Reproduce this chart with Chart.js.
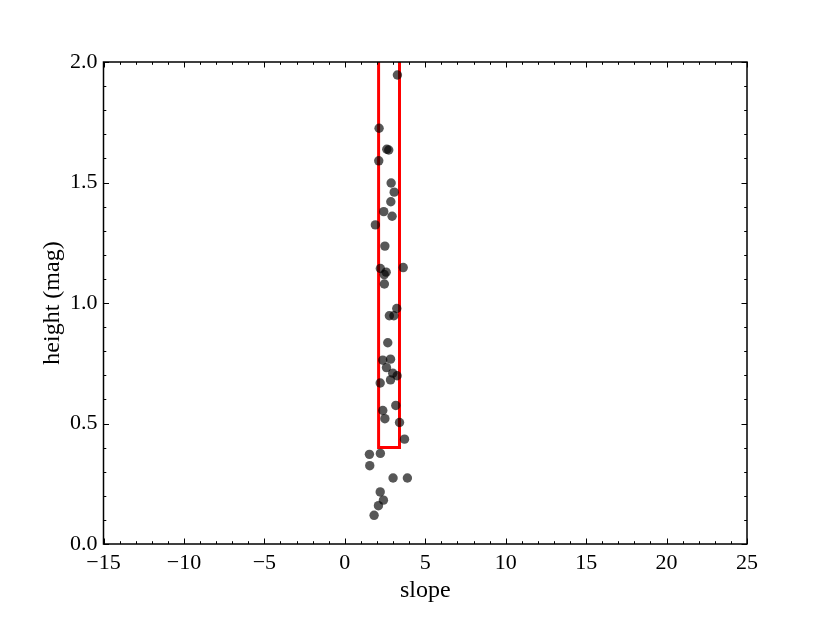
<!DOCTYPE html>
<html>
<head>
<meta charset="utf-8">
<script src="https://cdn.jsdelivr.net/npm/chart.js@4"></script>
<style>
  body { margin: 0; background: #fff; }
</style>
</head>
<body>
<canvas id="grafica" width="830" height="623"></canvas>
<script>
// Datos
const pendiente = [3.27, 2.13, 2.61, 2.73, 2.11, 2.88, 3.07, 2.86, 2.42, 2.94, 1.90, 2.49,
  2.21, 3.63, 2.57, 2.45, 2.46,
  3.23, 2.77, 3.05, 2.67, 2.36, 2.84, 2.59, 2.98, 3.25, 2.84, 2.20, 3.17, 2.36, 2.49,
  3.40, 3.71, 1.53, 2.21, 1.55, 3.00, 3.89, 2.20, 2.40, 2.09, 1.82];
const altura = [1.946, 1.725, 1.638, 1.635, 1.590, 1.498, 1.460, 1.420, 1.379, 1.360, 1.324, 1.236,
  1.143, 1.147, 1.128, 1.118, 1.079,
  0.977, 0.947, 0.947, 0.835, 0.763, 0.767, 0.732, 0.709, 0.698, 0.681, 0.668, 0.575, 0.554, 0.520,
  0.504, 0.435, 0.372, 0.376, 0.325, 0.274, 0.274, 0.216, 0.182, 0.159, 0.119];

// Caja roja de selección
const cajaX = [2.1, 2.1, 3.4, 3.4];
const cajaY = [2.2, 0.4, 0.4, 2.2];

const limitesX = [-15, 25];
const limitesY = [0, 2];

const fuente = "'Liberation Serif', 'DejaVu Serif', serif";
const menos = v => (v < 0 ? '\u2212' + Math.abs(v) : String(v));

// Marco y marcas hacia dentro en los cuatro lados
const marcasPlugin = {
  id: 'marcas',
  afterDatasetsDraw(chart) {
    const { ctx, chartArea: a, scales } = chart;
    const sx = scales.x, sy = scales.y;
    ctx.save();
    ctx.strokeStyle = '#000';
    ctx.lineWidth = 1;
    ctx.beginPath();
    for (let v = limitesX[0]; v <= limitesX[1]; v += 1) {
      const px = Math.round(sx.getPixelForValue(v)) + 0.5;
      const len = v % 5 === 0 ? 5.5 : 2.8;
      ctx.moveTo(px, a.bottom); ctx.lineTo(px, a.bottom - len);
      ctx.moveTo(px, a.top); ctx.lineTo(px, a.top + len);
    }
    for (let i = 0; i <= 20; i++) {
      const v = i / 10;
      const py = Math.round(sy.getPixelForValue(v)) + 0.5;
      const len = i % 5 === 0 ? 5.5 : 2.8;
      ctx.moveTo(a.left, py); ctx.lineTo(a.left + len, py);
      ctx.moveTo(a.right, py); ctx.lineTo(a.right - len, py);
    }
    ctx.stroke();
    ctx.lineWidth = 1.5;
    ctx.strokeRect(a.left, a.top, a.right - a.left, a.bottom - a.top);
    ctx.restore();
  }
};

new Chart(document.getElementById('grafica'), {
  type: 'scatter',
  data: {
    datasets: [
      {
        label: 'datos',
        data: pendiente.map((x, i) => ({ x: x, y: altura[i] })),
        pointRadius: 4.7,
        pointBackgroundColor: 'rgba(0,0,0,0.66)',
        pointBorderWidth: 0,
        order: 1
      },
      {
        label: 'caja',
        type: 'line',
        data: cajaX.map((x, i) => ({ x: x, y: cajaY[i] })),
        borderColor: '#ff0000',
        borderWidth: 3,
        pointRadius: 0,
        fill: false,
        tension: 0,
        order: 2
      }
    ]
  },
  options: {
    responsive: false,
    animation: false,
    devicePixelRatio: 1,
    layout: { padding: { left: 34, right: 83, top: 62, bottom: 14 } },
    plugins: { legend: { display: false }, tooltip: { enabled: false } },
    scales: {
      x: {
        type: 'linear',
        min: limitesX[0], max: limitesX[1],
        grid: { display: false, drawTicks: false },
        border: { display: false },
        ticks: { stepSize: 5, padding: 6, color: '#000', font: { family: fuente, size: 22 }, callback: v => menos(v) },
        title: { display: true, text: 'slope', color: '#000', font: { family: fuente, size: 24 }, padding: { top: 4 } },
        afterFit(scale) { scale.height = 65; }
      },
      y: {
        min: limitesY[0], max: limitesY[1],
        grid: { display: false, drawTicks: false },
        border: { display: false },
        ticks: { stepSize: 0.5, padding: 6, color: '#000', font: { family: fuente, size: 22 }, callback: v => v.toFixed(1) },
        title: { display: true, text: 'height (mag)', color: '#000', font: { family: fuente, size: 24 }, padding: { bottom: 4 } },
        afterFit(scale) { scale.width = 69.5; }
      }
    }
  },
  plugins: [marcasPlugin]
});
</script>
</body>
</html>
